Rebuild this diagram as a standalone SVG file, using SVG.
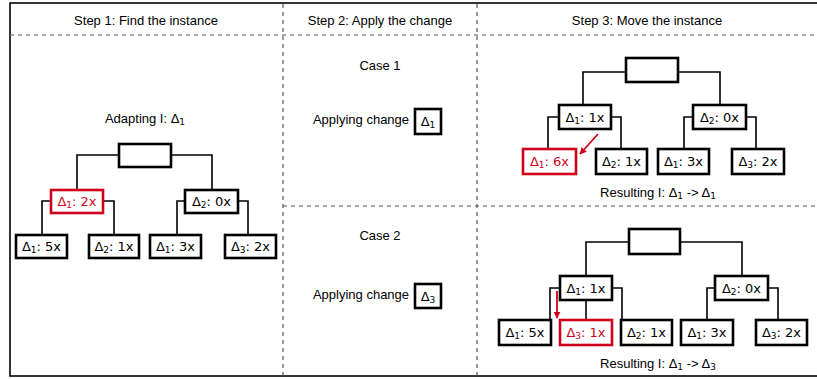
<svg xmlns="http://www.w3.org/2000/svg" width="817" height="379" viewBox="0 0 817 379">
<defs>
<style>
.frame{fill:none;stroke:#000;stroke-width:1.6}
.dash{fill:none;stroke:#555;stroke-width:1.2;stroke-dasharray:4 4}
.box{fill:#fff;stroke:#000;stroke-width:2.6}
.red{fill:#fff;stroke:#d0021b;stroke-width:2.6}
.conn{fill:none;stroke:#000;stroke-width:1.6}
.arrow{fill:none;stroke:#d0021b;stroke-width:1.8}
.lbl{font-family:"DejaVu Sans",sans-serif;font-size:13px;text-anchor:middle;fill:#000}
.lblr{font-family:"DejaVu Sans",sans-serif;font-size:13px;text-anchor:middle;fill:#d0021b}
.t{font-family:"Liberation Sans",Arial,sans-serif;font-size:13px;text-anchor:middle;fill:#000}
.sub{font-family:"DejaVu Sans",sans-serif;font-size:9px}
</style>
<marker id="ah" viewBox="0 0 10 10" refX="9" refY="5" markerWidth="7" markerHeight="7" markerUnits="userSpaceOnUse" orient="auto">
<path d="M0,0 L10,5 L0,10 z" fill="#d0021b"/>
</marker>
</defs>
<rect x="0" y="0" width="817" height="379" fill="#fff"/>
<g id="frame">
<rect class="frame" x="10" y="3" width="820" height="373"/>
<line class="dash" x1="10" y1="35" x2="817" y2="35"/>
<line class="dash" x1="283" y1="4" x2="283" y2="376"/>
<line class="dash" x1="477" y1="4" x2="477" y2="376"/>
<line class="dash" x1="283" y1="206" x2="817" y2="206"/>
</g>
<g id="headers">
<text class="t" x="146" y="25">Step 1: Find the instance</text>
<text class="t" x="380" y="25">Step 2: Apply the change</text>
<text class="t" x="647" y="25">Step 3: Move the instance</text>
</g>
<g id="labels">
<text class="t" x="145" y="123">Adapting I: Δ<tspan class="sub" dy="2">1</tspan></text>
<text class="t" x="380" y="70">Case 1</text>
<text class="t" x="361" y="124">Applying change</text>
<text class="t" x="380" y="240">Case 2</text>
<text class="t" x="361" y="299">Applying change</text>
<text class="t" x="658" y="197">Resulting I: Δ<tspan class="sub" dy="2">1</tspan><tspan dy="-2"> -&gt; Δ</tspan><tspan class="sub" dy="2">1</tspan></text>
<text class="t" x="658" y="368">Resulting I: Δ<tspan class="sub" dy="2">1</tspan><tspan dy="-2"> -&gt; Δ</tspan><tspan class="sub" dy="2">3</tspan></text>
</g>
<g id="connectors">
<path class="conn" d="M119 155 H77 V190 M171 155 H212 V190 M51 201 H42 V235 M103 201 H114 V235 M185 201 H177 V235 M238 201 H248 V235"/>
<path class="conn" d="M626 72 H583 V105 M678 72 H720 V105 M559 117 H548 V149 M611 117 H621 V149 M693 117 H684 V149 M746 117 H756 V149"/>
<path class="conn" d="M629 242 H586 V276 M680 242 H742 V276 M560 288 H550 V320 M586 300 V320 M612 288 H622 V320 M715 288 H707 V320 M768 288 H778 V320"/>
<line class="arrow" x1="598" y1="134" x2="580" y2="154" marker-end="url(#ah)"/>
<line class="arrow" x1="557" y1="291" x2="557" y2="318" marker-end="url(#ah)"/>
</g>
<g id="left-root"><rect class="box" x="119" y="144" width="52" height="23"/></g>
<g id="left-a1"><rect class="red" x="51" y="190" width="52" height="23"/><text class="lblr" x="77" y="206">Δ<tspan class="sub" dy="2">1</tspan><tspan dy="-2">: 2x</tspan></text></g>
<g id="left-a2"><rect class="box" x="185" y="190" width="53" height="23"/><text class="lbl" x="211.5" y="206">Δ<tspan class="sub" dy="2">2</tspan><tspan dy="-2">: 0x</tspan></text></g>
<g id="left-l1"><rect class="box" x="16" y="235" width="51" height="23"/><text class="lbl" x="41.5" y="251">Δ<tspan class="sub" dy="2">1</tspan><tspan dy="-2">: 5x</tspan></text></g>
<g id="left-l2"><rect class="box" x="89" y="235" width="50" height="23"/><text class="lbl" x="114" y="251">Δ<tspan class="sub" dy="2">2</tspan><tspan dy="-2">: 1x</tspan></text></g>
<g id="left-l3"><rect class="box" x="150" y="235" width="51" height="23"/><text class="lbl" x="175.5" y="251">Δ<tspan class="sub" dy="2">1</tspan><tspan dy="-2">: 3x</tspan></text></g>
<g id="left-l4"><rect class="box" x="225" y="235" width="51" height="23"/><text class="lbl" x="250.5" y="251">Δ<tspan class="sub" dy="2">3</tspan><tspan dy="-2">: 2x</tspan></text></g>
<g id="change1"><rect class="box" x="415" y="109" width="26" height="25"/><text class="lbl" x="428" y="126">Δ<tspan class="sub" dy="2">1</tspan></text></g>
<g id="change2"><rect class="box" x="415" y="284" width="26" height="24"/><text class="lbl" x="428" y="300.5">Δ<tspan class="sub" dy="2">3</tspan></text></g>
<g id="c1-root"><rect class="box" x="626" y="58" width="52" height="24"/></g>
<g id="c1-a1"><rect class="box" x="559" y="105" width="52" height="24"/><text class="lbl" x="585" y="121.5">Δ<tspan class="sub" dy="2">1</tspan><tspan dy="-2">: 1x</tspan></text></g>
<g id="c1-a2"><rect class="box" x="693" y="105" width="53" height="24"/><text class="lbl" x="719.5" y="121.5">Δ<tspan class="sub" dy="2">2</tspan><tspan dy="-2">: 0x</tspan></text></g>
<g id="c1-l1"><rect class="red" x="523" y="149" width="53" height="25"/><text class="lblr" x="549.5" y="166">Δ<tspan class="sub" dy="2">1</tspan><tspan dy="-2">: 6x</tspan></text></g>
<g id="c1-l2"><rect class="box" x="596" y="149" width="51" height="25"/><text class="lbl" x="621.5" y="166">Δ<tspan class="sub" dy="2">2</tspan><tspan dy="-2">: 1x</tspan></text></g>
<g id="c1-l3"><rect class="box" x="658" y="149" width="51" height="25"/><text class="lbl" x="683.5" y="166">Δ<tspan class="sub" dy="2">1</tspan><tspan dy="-2">: 3x</tspan></text></g>
<g id="c1-l4"><rect class="box" x="732" y="149" width="52" height="25"/><text class="lbl" x="758" y="166">Δ<tspan class="sub" dy="2">3</tspan><tspan dy="-2">: 2x</tspan></text></g>
<g id="c2-root"><rect class="box" x="629" y="229" width="51" height="25"/></g>
<g id="c2-a1"><rect class="box" x="560" y="276" width="52" height="24"/><text class="lbl" x="586" y="292.5">Δ<tspan class="sub" dy="2">1</tspan><tspan dy="-2">: 1x</tspan></text></g>
<g id="c2-a2"><rect class="box" x="715" y="276" width="53" height="24"/><text class="lbl" x="741.5" y="292.5">Δ<tspan class="sub" dy="2">2</tspan><tspan dy="-2">: 0x</tspan></text></g>
<g id="c2-l1"><rect class="box" x="499" y="320" width="52" height="25"/><text class="lbl" x="525" y="337">Δ<tspan class="sub" dy="2">1</tspan><tspan dy="-2">: 5x</tspan></text></g>
<g id="c2-l2"><rect class="red" x="560" y="320" width="52" height="25"/><text class="lblr" x="586" y="337">Δ<tspan class="sub" dy="2">3</tspan><tspan dy="-2">: 1x</tspan></text></g>
<g id="c2-l3"><rect class="box" x="621" y="320" width="51" height="25"/><text class="lbl" x="646.5" y="337">Δ<tspan class="sub" dy="2">2</tspan><tspan dy="-2">: 1x</tspan></text></g>
<g id="c2-l4"><rect class="box" x="681" y="320" width="52" height="25"/><text class="lbl" x="707" y="337">Δ<tspan class="sub" dy="2">1</tspan><tspan dy="-2">: 3x</tspan></text></g>
<g id="c2-l5"><rect class="box" x="756" y="320" width="51" height="25"/><text class="lbl" x="781.5" y="337">Δ<tspan class="sub" dy="2">3</tspan><tspan dy="-2">: 2x</tspan></text></g>
</svg>
